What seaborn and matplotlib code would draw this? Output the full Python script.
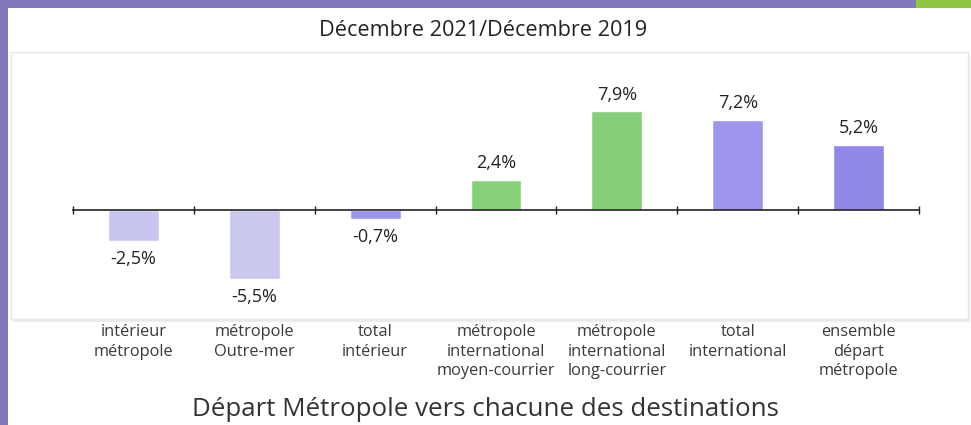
import matplotlib
matplotlib.use("Agg")
import matplotlib.pyplot as plt
import matplotlib.transforms as mtransforms
from matplotlib.patches import Rectangle
import seaborn as sns
import pandas as pd

# données
categories = [
    "intérieur\nmétropole",
    "métropole\nOutre-mer",
    "total\nintérieur",
    "métropole\ninternational\nmoyen-courrier",
    "métropole\ninternational\nlong-courrier",
    "total\ninternational",
    "ensemble\ndépart\nmétropole",
]
values = [-2.5, -5.5, -0.7, 2.4, 7.9, 7.2, 5.2]
value_labels = ["-2,5%", "-5,5%", "-0,7%", "2,4%", "7,9%", "7,2%", "5,2%"]
bar_colors = ["#c8c5f1", "#cac8ef", "#9b94ec", "#86d07a", "#84cf78", "#9d96ec", "#8f88e7"]

title = "Décembre 2021/Décembre 2019"
subtitle = "Départ Métropole vers chacune des destinations"

W, H = 971, 425
sns.set_style("white")
plt.rcParams["font.family"] = ["Open Sans", "DejaVu Sans"]

fig = plt.figure(figsize=(W / 100, H / 100), dpi=100)


def box(x0, y0, x1, y1):
    # pixels (origine en haut à gauche) -> fraction de figure
    return [x0 / W, 1 - y1 / H, (x1 - x0) / W, (y1 - y0) / H]


def add_rect(x0, y0, x1, y1, **kw):
    l, b, w, h = box(x0, y0, x1, y1)
    fig.patches.append(Rectangle((l, b), w, h, transform=fig.transFigure,
                                 zorder=-1, **kw))


# cadre décoratif
add_rect(0, 0, 916, 8, color="#8179bb", lw=0)
add_rect(916, 0, W, 8, color="#8dc63f", lw=0)
add_rect(0, 0, 8, H, color="#8179bb", lw=0)
add_rect(13, 54, 970, 322, color="#ececec", lw=0)
add_rect(11, 52, 968, 319, facecolor="white", edgecolor="#e6e6e6", lw=1)

ax = fig.add_axes(box(73, 60, 919, 315))
ax.patch.set_alpha(0)

df = pd.DataFrame({"cat": categories, "val": values})
sns.barplot(data=df, x="cat", y="val", hue="cat", palette=bar_colors,
            legend=False, width=0.42, saturation=1, ax=ax)

ax.set_xlim(-0.5, 6.5)
ax.set_ylim(-8.4, 12)
for s in ["top", "right", "left"]:
    ax.spines[s].set_visible(False)
ax.spines["bottom"].set_position(("data", 0))
ax.spines["bottom"].set_color("#222222")
ax.spines["bottom"].set_linewidth(1.2)
ax.spines["bottom"].set_zorder(5)
ax.set_xticks([i - 0.5 for i in range(8)])
ax.set_xticklabels([])
ax.tick_params(axis="x", bottom=True, direction="inout", length=6, width=1,
               color="#222222")
ax.set_yticks([])
ax.set_xlabel("")
ax.set_ylabel("")

for i, (v, lab) in enumerate(zip(values, value_labels)):
    off = 12 if v > 0 else -13
    ax.annotate(lab, (i, v), xytext=(0, off), textcoords="offset points",
                ha="center", va="center", fontsize=13, color="#222222")

trans = mtransforms.blended_transform_factory(ax.transData, fig.transFigure)
for i, cat in enumerate(categories):
    ax.text(i, 1 - 324 / H, cat, transform=trans, ha="center", va="top",
            fontsize=11.8, color="#3a3a3a", linespacing=1.3)

fig.text(483 / W, 1 - 30 / H, title, ha="center", va="center",
         fontsize=15.6, color="#222222")
fig.text(485 / W, 1 - 410 / H, subtitle, ha="center", va="center",
         fontsize=18.6, color="#333333")

fig.savefig("out.png", dpi=100)
